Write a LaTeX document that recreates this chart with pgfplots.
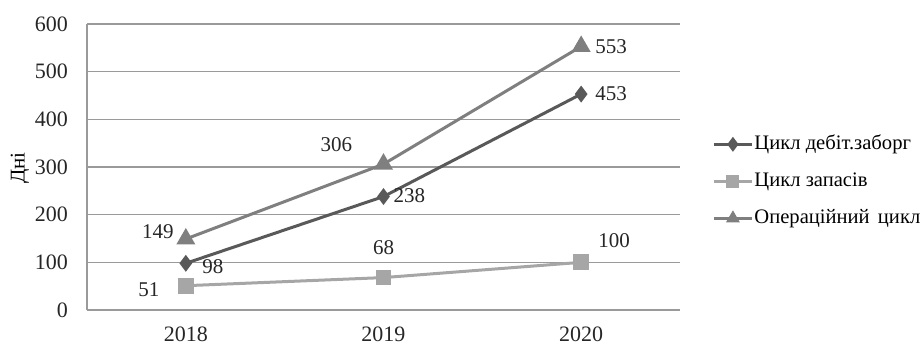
\documentclass[border=0pt]{standalone}
\usepackage{pgfplots}
\pgfplotsset{compat=1.18}
\usepackage{fontspec}
\setmainfont{Liberation Serif}

\definecolor{dcol}{HTML}{595959}
\definecolor{zcol}{HTML}{A6A6A6}
\definecolor{ocol}{HTML}{7F7F7F}
\definecolor{gridc}{HTML}{9A9A9A}

% label offsets (dx, dy in pt) for each value
\pgfplotstableread{
x y dx dy
0 98 13.5 -1.5
1 238 13 0.5
2 453 15 0
}\debt
\pgfplotstableread{
x y dx dy
0 51 -18.5 -2
1 68 0 15
2 100 16.5 11
}\stock
\pgfplotstableread{
x y dx dy
0 149 -14 3.5
1 306 -23.5 10
2 553 15 0
}\oper

\begin{document}
\begin{tikzpicture}
\useasboundingbox (0,0) rectangle (461.5pt,172.5pt);
\begin{axis}[
  at={(43.5pt,17.5pt)}, anchor=south west,
  scale only axis, width=296.5pt, height=143pt,
  xmin=-0.5, xmax=2.5, ymin=0, ymax=600,
  xtick={0,1,2}, xticklabels={2018,2019,2020},
  ytick={0,100,...,600},
  major tick length=0pt,
  axis x line*=bottom, axis y line*=left,
  axis line style={gridc, line width=0.6pt, -},
  ymajorgrids, grid style={gridc, line width=0.6pt},
  tick label style={font=\fontsize{11}{13}\selectfont, text=black!85},
  /pgf/number format/assume math mode=true,
  yticklabel style={xshift=-6pt},
  xticklabel style={yshift=-5pt},
  ylabel={Дні},
  ylabel style={font=\fontsize{10.5}{12}\selectfont, at={(axis description cs:0,0.497)}, anchor=center, yshift=33.5pt},
  legend style={at={(1.054,0.45)}, anchor=west, draw=none, fill=none, inner sep=0pt,
    font=\fontsize{10.3}{12}\selectfont, row sep=7pt,
    nodes={inner sep=0.5pt, text height=8pt, text depth=2.5pt}},
  legend cell align=left,
  legend image code/.code={\draw[mark repeat=2, mark phase=2, #1, mark size=2.5pt] plot coordinates {(0pt,0pt) (9.5pt,0pt) (19pt,0pt)};},
  nodes near coords,
  point meta=explicit symbolic,
  visualization depends on={\thisrow{dx} \as \ldx},
  visualization depends on={\thisrow{dy} \as \ldy},
  every node near coord/.style={anchor=center, xshift=\ldx pt, yshift=\ldy pt,
    font=\fontsize{10.5}{12}\selectfont, text=black!85},
]
\addplot[dcol, line width=1.5pt, mark=diamond*, mark size=3pt, mark options={solid}] table[x=x, y=y, meta=y] {\debt};
\addlegendentry{Цикл дебіт.заборг}
\addplot[zcol, line width=1.5pt, mark=square*, mark size=3.2pt] table[x=x, y=y, meta=y] {\stock};
\addlegendentry{Цикл запасів}
\addplot[ocol, line width=1.5pt, mark=triangle*, mark size=4pt] table[x=x, y=y, meta=y] {\oper};
\addlegendentry{Операційний\hspace{0.4em}цикл}
\end{axis}
\end{tikzpicture}
\end{document}
